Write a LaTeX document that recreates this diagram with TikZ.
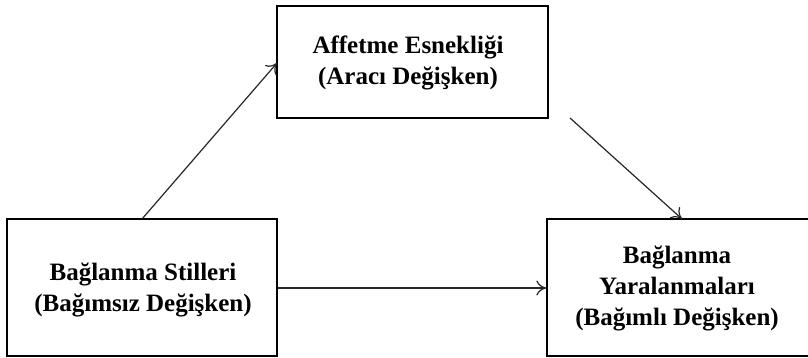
\documentclass[tikz,border=0pt]{standalone}
\usepackage{fontspec}
\setmainfont{Liberation Serif}
\usetikzlibrary{arrows.meta}
\begin{document}
\begin{tikzpicture}[x=1pt,y=-1pt,
  varbox/.style={draw, line width=1.3pt, inner sep=0pt},
  lbl/.style={font=\bfseries\fontsize{25}{31}\selectfont, align=center},
  link/.style={line width=1.2pt, draw=black!85, -{To[length=10pt,width=15pt,line width=1.2pt]}}]
  \useasboundingbox (0,0) rectangle (808,358);
  % three variable boxes
  \node[varbox, minimum width=271pt, minimum height=112pt] (med) at (412.5,62) {};
  \node[varbox, minimum width=270pt, minimum height=137pt] (ind) at (142,287.5) {};
  \node[varbox, minimum width=262pt, minimum height=137pt] (dep) at (678,287.5) {};
  % labels
  \node[lbl] (medt) at (408,63) {Affetme Esnekliği\\(Aracı Değişken)};
  \node[lbl] (indt) at (143,290) {Bağlanma Stilleri\\(Bağımsız  Değişken)};
  \node[lbl] (dept) at (677,288) {Bağlanma\\Yaralanmaları\\(Bağımlı Değişken)};
  % paths
  \coordinate (a1) at (142,219);
  \coordinate (a2) at (277,63);
  \coordinate (b1) at (570,118);
  \coordinate (b2) at (682,219);
  \draw[link] (a1) -- (a2);
  \draw[link] (b1) -- (b2);
  \draw[link] (ind.east |- 0,288) -- (dep.west |- 0,288);
\end{tikzpicture}
\end{document}
